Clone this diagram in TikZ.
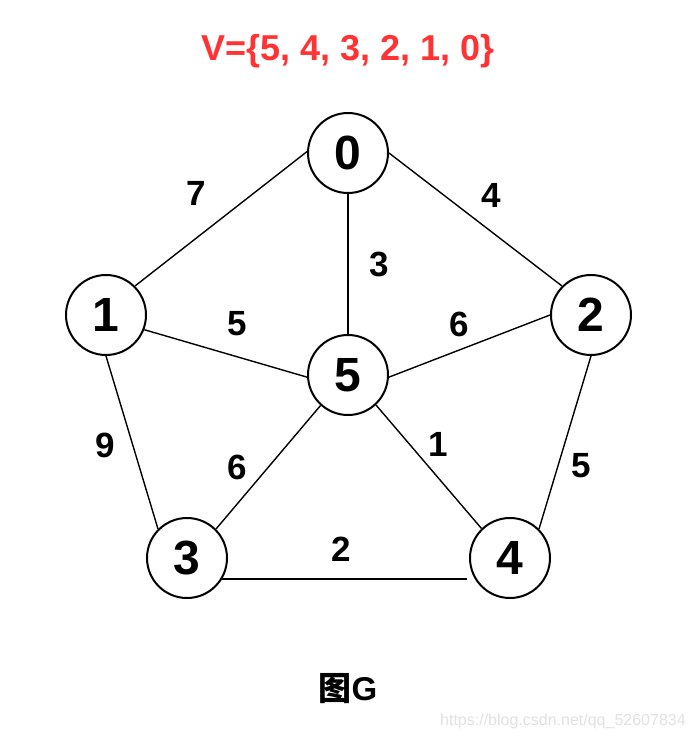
\documentclass[tikz,border=0pt]{standalone}
\usepackage{fontspec}
\setmainfont{Liberation Sans}
\newfontfamily\cjk{Noto Sans CJK SC}
\definecolor{titlered}{HTML}{FF3333}
\definecolor{wmgray}{HTML}{E2E2E2}
\begin{document}
\begin{tikzpicture}[x=1pt,y=-1pt,
  vtx/.style={circle,draw=black,line width=2pt,minimum size=80pt,inner sep=0pt,
    font=\fontsize{48}{48}\selectfont\bfseries},
  edgeline/.style={line width=1.4pt},
  wlabel/.style={inner sep=0pt,font=\fontsize{35}{35}\selectfont\bfseries}]
\useasboundingbox (0,0) rectangle (693,737);
\fill[white] (0,0) rectangle (693,737);
\node[inner sep=0pt,text=titlered,font=\fontsize{36}{36}\selectfont\bfseries] (title) at (348,51) {V=\{5, 4, 3, 2, 1, 0\}};
\node[vtx] (n0) at (348,153) {0};
\node[vtx] (n1) at (106,315) {1};
\node[vtx] (n2) at (591,315) {2};
\node[vtx] (n5) at (348,375) {5};
\node[vtx] (n3) at (187,558) {3};
\node[vtx] (n4) at (510,558) {4};
\draw[edgeline] (n0.178) -- (n1.45);
\draw[edgeline] (n0.0) -- (n2.135);
\draw[edgeline] (n0.270) -- (n5.90);
\draw[edgeline] (n1.-21) -- (n5.183);
\draw[edgeline] (n2.180) -- (n5.-3);
\draw[edgeline] (n1.270) -- (n3.135);
\draw[edgeline] (n3.45) -- (n5.228);
\draw[edgeline] (n5.313) -- (n4.134);
\draw[edgeline] (n2.270) -- (n4.45);
\draw[edgeline] (n3.-31) -- ([xshift=-8pt]n4.211);
\node[wlabel] (w01) at (196,193) {7};
\node[wlabel] (w02) at (491,195) {4};
\node[wlabel] (w05) at (379,264) {3};
\node[wlabel] (w15) at (237,324) {5};
\node[wlabel] (w25) at (459,324) {6};
\node[wlabel] (w13) at (105,445) {9};
\node[wlabel] (w35) at (237,467) {6};
\node[wlabel] (w45) at (438,444) {1};
\node[wlabel] (w24) at (581,466) {5};
\node[wlabel] (w34) at (341,549) {2};
\node[inner sep=0pt,font=\fontsize{33}{33}\selectfont\bfseries] (cap) at (348,689) {{\cjk 图}G};
\node[inner sep=0pt,anchor=base west,text=wmgray,font=\fontsize{16}{16}\selectfont] (wm) at (440,725) {https://blog.csdn.net/qq\_52607834};
\end{tikzpicture}
\end{document}
